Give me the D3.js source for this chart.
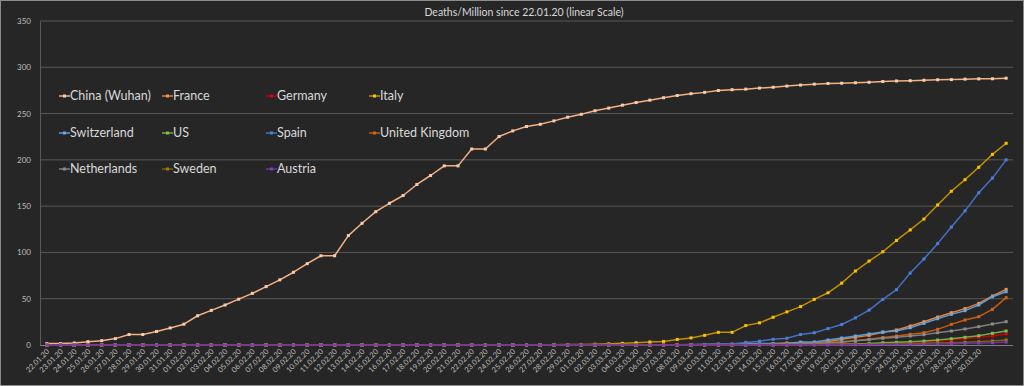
<!DOCTYPE html>
<html><head><meta charset="utf-8">
<script src="https://cdn.jsdelivr.net/npm/d3@7"></script>
<style>
html,body{margin:0;padding:0;background:#262626;}
svg{display:block;font-family:Lato,"Open Sans",sans-serif;}
</style></head>
<body><svg id="c" width="1024" height="386"></svg>
<script>
const dates = ["22.01.20","23.01.20","24.01.20","25.01.20","26.01.20","27.01.20","28.01.20","29.01.20","30.01.20","31.01.20",
"01.02.20","02.02.20","03.02.20","04.02.20","05.02.20","06.02.20","07.02.20","08.02.20","09.02.20","10.02.20",
"11.02.20","12.02.20","13.02.20","14.02.20","15.02.20","16.02.20","17.02.20","18.02.20","19.02.20","20.02.20",
"21.02.20","22.02.20","23.02.20","24.02.20","25.02.20","26.02.20","27.02.20","28.02.20","29.02.20",
"01.03.20","02.03.20","03.03.20","04.03.20","05.03.20","06.03.20","07.03.20","08.03.20","09.03.20","10.03.20",
"11.03.20","12.03.20","13.03.20","14.03.20","15.03.20","16.03.20","17.03.20","18.03.20","19.03.20","20.03.20",
"21.03.20","22.03.20","23.03.20","24.03.20","25.03.20","26.03.20","27.03.20","28.03.20","29.03.20","30.03.20",
"31.03.20","01.04.20"];
const tickLabels = dates.slice(0, 69);
const yTicks = [0,50,100,150,200,250,300,350];

const china = [1.5,1.5,2.2,3.6,4.7,6.9,11.3,11.3,14.6,18.4,22.5,31.6,37.4,43.2,49.5,55.8,63.1,70.4,78.6,87.9,
96.4,96.4,118.2,131.5,144.0,153.1,161.5,173.4,183.1,193.5,193.5,211.7,211.7,225.2,231.3,236.0,238.4,242.1,246.1,
249.2,253.0,255.9,259.1,261.9,264.5,267.1,269.5,271.5,272.9,274.9,275.8,276.4,277.5,278.4,279.7,280.8,281.8,282.5,282.8,
283.3,283.8,284.6,285.2,285.5,286.0,286.5,286.7,287.2,287.5,287.6,288.2];
const france = [0,0,0,0,0,0,0,0,0,0,0,0,0,0,0,0,0,0,0,0,0,0,0,0,0.01,0.01,0.01,0.01,0.01,0.01,0.01,0.01,0.01,0.01,0.01,0.03,0.03,0.03,0.03,
0.03,0.04,0.06,0.06,0.09,0.13,0.16,0.28,0.28,0.49,0.72,0.72,1.18,1.36,1.36,2.2,2.2,2.2,3.6,6.1,8.3,10.4,13.8,16.2,20.5,25.2,30.2,34.9,39.3,45.0,52.9,60.1];
const germany = [0,0,0,0,0,0,0,0,0,0,0,0,0,0,0,0,0,0,0,0,0,0,0,0,0,0,0,0,0,0,0,0,0,0,0,0,0,0,0,0,0,0,0,0,0,0,0,0,
0.02,0.04,0.05,0.08,0.1,0.16,0.2,0.33,0.4,0.5,0.8,1.1,1.2,1.4,1.8,2.5,3.2,4.3,5.4,6.8,8.3,9.7,11.9];
const italy = [0,0,0,0,0,0,0,0,0,0,0,0,0,0,0,0,0,0,0,0,0,0,0,0,0,0,0,0,0,0,0.02,0.03,0.05,0.12,0.17,0.2,0.28,0.35,0.48,
0.56,0.86,1.31,1.77,2.45,3.26,3.86,6.06,7.67,10.45,13.7,13.7,21.0,23.9,30.0,35.8,41.5,49.3,56.4,66.8,79.9,90.7,100.7,113.0,124.3,136.1,151.3,166.1,178.6,192.0,205.9,217.9];
const switzerland = [0,0,0,0,0,0,0,0,0,0,0,0,0,0,0,0,0,0,0,0,0,0,0,0,0,0,0,0,0,0,0,0,0,0,0,0,0,0,0,0,0,0,0,
0.12,0.12,0.12,0.23,0.23,0.35,0.47,0.47,1.28,1.52,1.63,1.63,3.15,3.3,5.4,7.6,9.7,11.9,14.0,15.1,18.7,23.4,28.4,33.1,37.1,43.2,52.2,57.6];
const us = [0,0,0,0,0,0,0,0,0,0,0,0,0,0,0,0,0,0,0,0,0,0,0,0,0,0,0,0,0,0,0,0,0,0,0,0,0,0,0,
0.01,0.02,0.02,0.03,0.04,0.04,0.05,0.07,0.07,0.09,0.1,0.12,0.14,0.17,0.2,0.26,0.33,0.46,0.65,0.9,1.2,1.6,2.5,2.9,3.6,4.3,5.4,6.8,8.3,10.1,12.6,15.1];
const spain = [0,0,0,0,0,0,0,0,0,0,0,0,0,0,0,0,0,0,0,0,0,0,0,0,0,0,0,0,0,0,0,0,0,0,0,0,0,0,0,0,0,
0.02,0.04,0.06,0.11,0.21,0.36,0.6,0.75,1.15,1.17,2.83,4.15,6.16,7.29,11.35,13.27,17.68,22.2,29.3,37.7,49.2,59.8,77.7,93.0,109.5,127.4,144.9,164.4,180.3,200.0];
const uk = [0,0,0,0,0,0,0,0,0,0,0,0,0,0,0,0,0,0,0,0,0,0,0,0,0,0,0,0,0,0,0,0,0,0,0,0,0,0,0,0,0,0,0,0,0,
0.03,0.05,0.06,0.1,0.12,0.12,0.12,0.3,0.3,0.8,0.8,1.1,2.1,2.7,4.7,6.1,8.1,9.7,11.5,13.3,16.9,22.3,27.0,30.6,38.5,51.1];
const netherlands = [0,0,0,0,0,0,0,0,0,0,0,0,0,0,0,0,0,0,0,0,0,0,0,0,0,0,0,0,0,0,0,0,0,0,0,0,0,0,0,0,0,0,0,0,0,
0.06,0.17,0.17,0.23,0.29,0.29,0.6,0.7,1.1,1.2,1.4,2.1,2.5,3.5,4.6,5.8,7.2,8.3,9.7,11.2,13.3,15.1,17.3,19.8,22.7,25.2];
const sweden = [0,0,0,0,0,0,0,0,0,0,0,0,0,0,0,0,0,0,0,0,0,0,0,0,0,0,0,0,0,0,0,0,0,0,0,0,0,0,0,0,0,0,0,0,0,0,0,0,0,0,0,
0.1,0.1,0.2,0.2,0.3,0.4,0.5,0.5,0.6,0.7,0.8,1.1,1.4,1.8,2.2,2.5,2.9,3.6,4.3,5.4];
const austria = [0,0,0,0,0,0,0,0,0,0,0,0,0,0,0,0,0,0,0,0,0,0,0,0,0,0,0,0,0,0,0,0,0,0,0,0,0,0,0,0,0,0,0,0,0,0,0,0,0,0,0,0,0,0,0,
0.05,0.1,0.1,0.2,0.2,0.3,0.4,0.5,0.6,0.8,1.1,1.4,1.8,2.2,2.5,3.2];

const seriesNames = ["China (Wuhan)","France","Germany","Italy","Switzerland","US","Spain","United Kingdom","Netherlands","Sweden","Austria"];
const seriesValues = [china,france,germany,italy,switzerland,us,spain,uk,netherlands,sweden,austria];
const lineColors = ["#f4b183","#ed7d31","#c00000","#bf9000","#5b9bd5","#70ad47","#4472c4","#c55a11","#7f7f7f","#7f6000","#7030a0"];
const markColors = ["#f8cbad","#f4914e","#e00000","#ffc000","#6fa8dc","#7cc04e","#4a7fd6","#d0621a","#8c8c8c","#a07c00","#8040b0"];

const svg = d3.select("#c");
const W = 1024, H = 386;
const m = {l:40, r:1013, t:21, b:345};

svg.append("rect").attr("x",0.5).attr("y",0.5).attr("width",W-1).attr("height",H-1)
  .attr("fill","#262626").attr("stroke","#8c8c8c");

const x = d3.scaleBand().domain(dates).range([m.l, m.r]).padding(0);
const cx = d => x(d) + x.bandwidth()/2;
const y = d3.scaleLinear().domain([0,350]).range([m.b, m.t]);

// gridlines
svg.append("g").selectAll("line").data(yTicks.filter(t=>t>0)).join("line")
  .attr("x1",m.l).attr("x2",m.r).attr("y1",d=>y(d)).attr("y2",d=>y(d))
  .attr("stroke","#595959").attr("stroke-width",1);

// y axis
const ya = svg.append("g").attr("transform",`translate(${m.l},0)`)
  .call(d3.axisLeft(y).tickValues(yTicks).tickSize(0).tickPadding(9));
ya.select(".domain").attr("stroke","#595959");
ya.selectAll("text").attr("fill","#bfbfbf").style("font-size","8px").style("font-family","Lato,sans-serif");

// x axis
const xa = svg.append("g").attr("transform",`translate(0,${m.b})`)
  .call(d3.axisBottom(x).tickValues(tickLabels).tickSize(0).tickPadding(0));
xa.select(".domain").attr("stroke","#7f7f7f").attr("d",`M${m.l},0.5H${m.r}`);
xa.selectAll("text").attr("fill","#bfbfbf").style("font-size","7.5px").style("font-family","Lato,sans-serif")
  .attr("text-anchor","end").attr("dy","0").attr("y",0)
  .attr("transform","translate(3,7) rotate(-45)");

// title
svg.append("text").attr("x",524).attr("y",16).attr("text-anchor","middle")
  .attr("fill","#d9d9d9").style("font-size","10.5px").text("Deaths/Million since 22.01.20 (linear Scale)");

// lines
const line = d3.line().x((v,i)=>cx(dates[i])).y(v=>y(v));
seriesValues.forEach((vals,s)=>{
  const g = svg.append("g");
  g.append("path").attr("d",line(vals)).attr("fill","none")
    .attr("stroke",lineColors[s]).attr("stroke-width",1.5).attr("stroke-linejoin","round");
  g.selectAll("rect").data(vals).join("rect")
    .attr("x",(v,i)=>cx(dates[i])-1.5).attr("y",v=>y(v)-1.5)
    .attr("width",3).attr("height",3).attr("fill",markColors[s]);
});

// legend
const colX = [59,162,266,369];
const rowY = [96,133,169];
seriesNames.forEach((n,s)=>{
  const lx = colX[s%4], ly = rowY[Math.floor(s/4)];
  const g = svg.append("g").attr("transform",`translate(${lx},${ly})`);
  g.append("line").attr("x1",0).attr("x2",11).attr("y1",0).attr("y2",0)
    .attr("stroke",lineColors[s]).attr("stroke-width",1.5);
  g.append("rect").attr("x",4).attr("y",-1.5).attr("width",3).attr("height",3).attr("fill",markColors[s]);
  g.append("text").attr("x",11).attr("y",0).attr("dy","0.35em").attr("fill","#d9d9d9")
    .style("font-size","12.5px").text(n);
});
</script></body></html>
